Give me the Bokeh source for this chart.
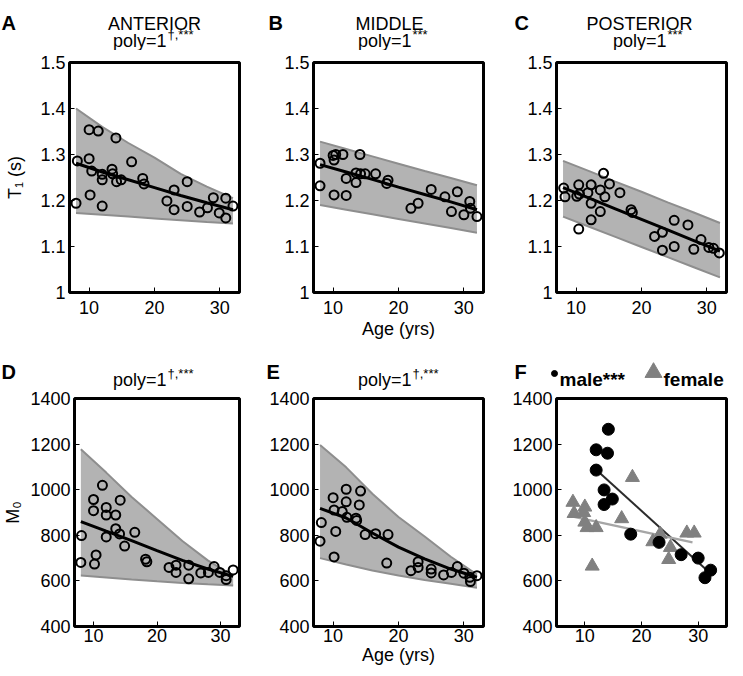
from bokeh.plotting import figure
from bokeh.layouts import column, row
from bokeh.models import Range1d, FixedTicker
from bokeh.core.properties import value
from bokeh.embed import file_html
from bokeh.resources import INLINE

FONT = "Liberation Sans"

# ---------------- data ----------------
fit_age = [8, 12, 16, 20, 24, 28, 32]

# A  ANTERIOR  T1
a_age = [8.0, 8.2, 10.0, 11.4, 14.1, 10.0, 10.4, 10.15, 12.0, 12.0, 12.0, 13.5, 13.6, 14.2, 14.9,
         16.5, 18.2, 18.4, 21.9, 23.0, 23.0, 25.0, 25.0, 26.9, 28.1, 29.0, 29.9, 30.9, 30.9, 32.0]
a_t1 = [1.194, 1.286, 1.354, 1.351, 1.336, 1.291, 1.264, 1.212, 1.188, 1.257, 1.245, 1.268, 1.258, 1.241, 1.245,
        1.284, 1.248, 1.236, 1.199, 1.223, 1.180, 1.241, 1.187, 1.175, 1.184, 1.206, 1.173, 1.205, 1.162, 1.188]
a_fit = [1.281, 1.262, 1.245, 1.228, 1.211, 1.195, 1.180]
a_upper = [1.400, 1.360, 1.325, 1.293, 1.258, 1.230, 1.205]
a_lower = [1.173, 1.169, 1.165, 1.161, 1.157, 1.153, 1.150]

# B  MIDDLE  T1
b_age = [8.0, 8.0, 10.0, 10.4, 10.15, 11.5, 10.15, 12.0, 12.0, 13.5, 13.5, 14.1, 14.2, 14.9,
         16.5, 18.4, 18.2, 21.9, 23.0, 25.0, 27.1, 28.1, 29.0, 30.0, 30.9, 31.0, 32.0]
b_t1 = [1.281, 1.232, 1.298, 1.300, 1.288, 1.300, 1.212, 1.211, 1.248, 1.239, 1.260, 1.300, 1.258, 1.258,
        1.258, 1.244, 1.237, 1.183, 1.194, 1.224, 1.208, 1.176, 1.219, 1.169, 1.198, 1.183, 1.165]
b_fit = [1.278, 1.262, 1.246, 1.229, 1.213, 1.197, 1.180]
b_upper = [1.328, 1.312, 1.296, 1.280, 1.264, 1.249, 1.233]
b_lower = [1.190, 1.180, 1.170, 1.160, 1.150, 1.140, 1.130]

# C  POSTERIOR  T1
c_age = [8.1, 8.3, 10.1, 10.4, 10.5, 11.8, 12.3, 12.3, 12.3, 10.4, 13.7, 14.4, 14.2, 15.1, 13.7,
         16.7, 18.4, 18.6, 22.0, 23.2, 23.2, 25.0, 25.0, 27.1, 28.0, 29.1, 30.3, 31.0, 31.9]
c_t1 = [1.227, 1.208, 1.209, 1.234, 1.214, 1.217, 1.234, 1.194, 1.158, 1.138, 1.223, 1.208, 1.259, 1.236, 1.176,
        1.217, 1.180, 1.174, 1.122, 1.131, 1.092, 1.157, 1.100, 1.147, 1.094, 1.115, 1.098, 1.096, 1.086]
c_fit = [1.228, 1.205, 1.182, 1.159, 1.136, 1.113, 1.090]
c_upper = [1.286, 1.264, 1.241, 1.219, 1.196, 1.174, 1.151]
c_lower = [1.165, 1.143, 1.121, 1.099, 1.077, 1.055, 1.033]

# D  M0 anterior
d_age = [11.4, 10.0, 14.2, 10.0, 12.0, 12.0, 13.5, 8.1, 12.0, 13.5, 14.1, 14.9, 16.5, 8.0, 10.4,
         10.15, 18.2, 18.4, 21.9, 23.0, 23.0, 25.0, 25.0, 26.9, 28.1, 29.0, 29.9, 30.9, 30.9, 32.0]
d_m0 = [1019, 957, 954, 908, 922, 889, 889, 799, 793, 829, 806, 753, 813, 681, 714,
        674, 695, 684, 659, 669, 637, 669, 609, 635, 637, 663, 637, 623, 606, 648]
d_fit = [860, 818, 777, 733, 690, 652, 620]
d_upper = [1177, 1075, 968, 872, 775, 690, 622]
d_lower = [624, 615, 606, 598, 591, 585, 580]

# E  M0 middle
e_age = [12.0, 14.2, 10.0, 12.0, 14.0, 10.15, 11.4, 12.1, 13.5, 13.6, 8.2, 8.0, 10.4, 14.9, 16.5,
         18.4, 10.15, 18.2, 21.9, 23.0, 23.0, 25.0, 25.0, 26.9, 28.1, 29.0, 30.0, 30.9, 31.0, 32.0]
e_m0 = [1002, 994, 965, 947, 933, 911, 904, 879, 875, 865, 856, 774, 817, 803, 807,
        803, 705, 678, 645, 659, 684, 652, 635, 626, 637, 663, 634, 616, 597, 623]
e_fit = [918, 876, 810, 748, 697, 652, 616]
e_upper = [1196, 1098, 982, 880, 795, 706, 628]
e_lower = [700, 672, 646, 624, 604, 587, 570]

# F  M0 by sex
male_age = [14.15, 12.0, 14.0, 12.0, 13.4, 14.85, 13.4, 18.1, 23.1, 27.0, 30.0, 32.2, 31.2]
male_m0 = [1265, 1175, 1160, 1086, 999, 959, 935, 805, 769, 715, 700, 647, 614]
female_age = [7.9, 8.1, 10.0, 9.8, 10.0, 10.4, 12.0, 18.4, 16.5, 11.3, 22.0, 23.3, 25.1, 24.8, 28.0, 29.3]
female_m0 = [945, 896, 924, 900, 858, 834, 834, 1054, 873, 665, 772, 805, 747, 694, 810, 810]
male_fit_age = [12.2, 31.5]
male_fit_m0 = [1083, 648]
female_fit_age = [7.5, 29.0]
female_fit_m0 = [884, 769]

# ticks / texts
x_ticks = [10, 20, 30]
t1_ticks = [1.0, 1.1, 1.2, 1.3, 1.4, 1.5]
t1_tick_labels = ["1", "1.1", "1.2", "1.3", "1.4", "1.5"]
m0_ticks = [400, 600, 800, 1000, 1200, 1400]
m0_tick_labels = ["400", "600", "800", "1000", "1200", "1400"]
panel_letters = ["A", "B", "C", "D", "E", "F"]
region_titles = ["ANTERIOR", "MIDDLE", "POSTERIOR"]
sig_marks = ["\u2020,***", "***", "***", "\u2020,***", "\u2020,***"]
legend_labels = ["male***", "female"]

BAND = "#b3b3b3"
BAND_EDGE = "#8e8e8e"
FEMALE = "#808080"

# layout geometry
W = [242, 243, 243]
BL = [69, 71, 71]
BR = [3, 2, 2]
XR = (7, 33)
XR_F = (5, 35)
T1R = (1.0, 1.5)
M0R = (400, 1400)
H1, P1, H2, P2 = 50, 298, 42, 278


def make_panel(width, height, bl, br, bt, bb, xr, yr, yticks, ylabels, xlabel=None, ylabel=None,
               ylabel_standoff=4, xlabel_standoff=8, axlab_standoff=0):
    p = figure(width=width, height=height, output_backend="svg", toolbar_location=None,
               x_range=Range1d(*xr), y_range=Range1d(*yr),
               min_border_left=bl, min_border_right=br, min_border_top=bt, min_border_bottom=bb)
    p.grid.visible = False
    p.background_fill_color = "white"
    p.border_fill_color = "white"
    p.outline_line_color = "black"
    p.outline_line_width = 3
    p.outline_line_alpha = 1.0
    p.xaxis.ticker = FixedTicker(ticks=x_ticks, minor_ticks=[])
    p.yaxis.ticker = FixedTicker(ticks=yticks, minor_ticks=[])
    p.yaxis.major_label_overrides = {t: l for t, l in zip(yticks, ylabels)}
    for ax in (p.xaxis[0], p.yaxis[0]):
        ax.axis_line_color = None
        ax.major_tick_in = 5
        ax.major_tick_out = 0
        ax.major_tick_line_color = "black"
        ax.major_tick_line_width = 1
        ax.major_label_text_font = FONT
        ax.major_label_text_font_size = "18px"
        ax.major_label_text_color = "black"
        ax.axis_label_text_font = FONT
        ax.axis_label_text_font_size = "18px"
        ax.axis_label_text_font_style = "normal"
        ax.axis_label_text_color = "black"
    p.yaxis.major_label_standoff = 4
    p.xaxis.major_label_standoff = xlabel_standoff
    if xlabel:
        p.xaxis.axis_label = xlabel
        p.xaxis.axis_label_standoff = axlab_standoff
    if ylabel:
        p.yaxis.axis_label = ylabel
        p.yaxis.axis_label_standoff = ylabel_standoff
    return p


def band_panel(p, age, vals, fit, upper, lower):
    p.varea(x=fit_age, y1=lower, y2=upper, fill_color=BAND, fill_alpha=1.0)
    p.line(fit_age, upper, line_color=BAND_EDGE, line_width=2)
    p.line(fit_age, lower, line_color=BAND_EDGE, line_width=2)
    p.line(fit_age, fit, line_color="black", line_width=3)
    p.scatter(age, vals, marker="circle", size=9, fill_color=None, line_color="black", line_width=2)


def header(width, height):
    h = figure(width=width, height=height, output_backend="svg", toolbar_location=None,
               x_range=Range1d(0, width), y_range=Range1d(height, 0),
               min_border=0, min_border_left=0, min_border_right=0,
               min_border_top=0, min_border_bottom=0,
               x_axis_location=None, y_axis_location=None)
    h.outline_line_color = None
    h.grid.visible = False
    h.background_fill_color = "white"
    h.border_fill_color = "white"
    return h


def htext(h, x, y, text, size, align="left", bold=False, color="black"):
    h.text(x=[x], y=[y], text=[text], text_font=value(FONT), text_font_size=value(f"{size}px"),
           text_align=value(align), text_baseline=value("alphabetic"), text_color=value(color),
           text_font_style=value("bold" if bold else "normal"))


def title_block(h, letter, letter_x, main, main_x, anchor_x, sup, ys):
    ly, my, py, sy = ys
    htext(h, letter_x, ly, letter, 20, bold=True)
    if main:
        htext(h, main_x, my, main, 18, align="center")
    htext(h, anchor_x, py, "poly=1", 18, align="right")
    htext(h, anchor_x + 1, sy, sup, 13)


ROW1_Y = (22, 23, 40, 34)
ROW2_Y = (23, 23, 31, 25)

# --- header row 1 ---
hA = header(W[0], H1)
title_block(hA, panel_letters[0], 1, region_titles[0], 154, 166, sig_marks[0], ROW1_Y)
hB = header(W[1], H1)
title_block(hB, panel_letters[1], 26, region_titles[1], 147, 169, sig_marks[1], ROW1_Y)
hC = header(W[2], H1)
title_block(hC, panel_letters[2], 29, region_titles[2], 154, 181, sig_marks[2], ROW1_Y)

# --- plot row 1 ---
pA = make_panel(W[0], P1, BL[0], BR[0], 12, 56, XR, T1R, t1_ticks, t1_tick_labels,
                ylabel="T\u2081 (s)", ylabel_standoff=12)
band_panel(pA, a_age, a_t1, a_fit, a_upper, a_lower)
pB = make_panel(W[1], P1, BL[1], BR[1], 12, 56, XR, T1R, t1_ticks, t1_tick_labels,
                xlabel="Age (yrs)", axlab_standoff=2)
band_panel(pB, b_age, b_t1, b_fit, b_upper, b_lower)
pC = make_panel(W[2], P1, BL[2], BR[2], 12, 56, XR, T1R, t1_ticks, t1_tick_labels)
band_panel(pC, c_age, c_t1, c_fit, c_upper, c_lower)

# --- header row 2 ---
hD = header(W[0], H2)
title_block(hD, panel_letters[3], 1, None, 0, 166, sig_marks[3], ROW2_Y)
hE = header(W[1], H2)
title_block(hE, panel_letters[4], 24, None, 0, 169, sig_marks[4], ROW2_Y)
hF = header(W[2], H2)
htext(hF, 29, 23, panel_letters[5], 20, bold=True)
hF.scatter([69], [25], marker="circle", size=6, fill_color="black", line_color="black")
htext(hF, 74, 31, legend_labels[0], 19, bold=True)
hF.scatter([168], [24], marker="triangle", size=17, fill_color=FEMALE, line_color=FEMALE)
htext(hF, 178, 31, legend_labels[1], 19, bold=True)

# --- plot row 2 ---
pD = make_panel(W[0], P2, BL[0], BR[0], 8, 42, XR, M0R, m0_ticks, m0_tick_labels,
                ylabel="M\u2080", ylabel_standoff=4, xlabel_standoff=2)
band_panel(pD, d_age, d_m0, d_fit, d_upper, d_lower)
pE = make_panel(W[1], P2, BL[1], BR[1], 8, 42, XR, M0R, m0_ticks, m0_tick_labels,
                xlabel="Age (yrs)", xlabel_standoff=2, axlab_standoff=0)
band_panel(pE, e_age, e_m0, e_fit, e_upper, e_lower)
pF = make_panel(W[2], P2, BL[2], BR[2], 8, 42, XR_F, M0R, m0_ticks, m0_tick_labels,
                xlabel_standoff=2)
pF.line(male_fit_age, male_fit_m0, line_color="#2b2b2b", line_width=2)
pF.line(female_fit_age, female_fit_m0, line_color="#a6a6a6", line_width=2.5)
pF.scatter(female_age, female_m0, marker="triangle", size=14, fill_color=FEMALE,
           line_color=FEMALE, line_width=1)
pF.scatter(male_age, male_m0, marker="circle", size=12, fill_color="black", line_color="black")

layout = column(row(hA, hB, hC), row(pA, pB, pC), row(hD, hE, hF), row(pD, pE, pF))

open("out.html", "w").write(file_html(layout, INLINE))
